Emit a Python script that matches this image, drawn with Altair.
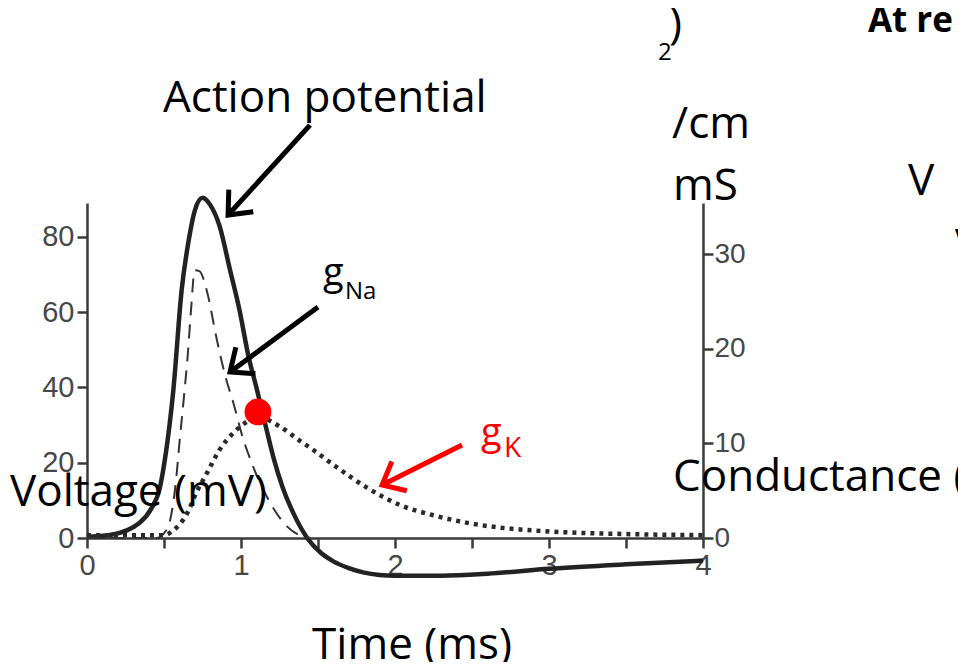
import altair as alt
import pandas as pd

# ---- data ----
time_v = [0, 0.15, 0.34, 0.42, 0.47, 0.51, 0.56, 0.615, 0.66, 0.70, 0.75, 0.80, 0.86, 0.93, 0.99,
          1.05, 1.10, 1.156, 1.21, 1.27, 1.34, 1.43, 1.52, 1.6, 1.7, 1.8, 1.9, 2.0, 2.3, 2.6, 3.0, 3.5, 4.0]
voltage = [0.3, 0.8, 4, 8, 12.8, 22, 39, 66, 79, 87, 90.4, 88.5, 83, 71, 60.6,
           48, 40, 30.5, 21.5, 13.5, 6.6, 0, -4, -6.2, -8, -9.2, -9.8, -10, -10, -9.5, -8.2, -7, -6]

time_na = [0, 0.45, 0.5, 0.54, 0.58, 0.60, 0.63, 0.655, 0.675, 0.70, 0.73, 0.78, 0.84, 0.90, 0.95,
           1.01, 1.08, 1.17, 1.30, 1.38, 1.45]
g_na = [0, 0, 0.5, 1.9, 6.4, 10, 15, 19.5, 24, 28.3, 28.2, 26, 21.2, 17, 14.3,
        10.7, 7.5, 4.3, 1.2, 0.3, 0]

time_k = [0, 0.5, 0.56, 0.65, 0.71, 0.78, 0.86, 0.95, 1.04, 1.1, 1.25, 1.38, 1.47, 1.62, 1.82,
          2.03, 2.25, 2.47, 2.68, 2.9, 3.12, 3.55, 4.0]
g_k = [0.3, 0.3, 0.8, 2.6, 4.8, 6.9, 9.3, 11.1, 12.3, 12.8, 11.8, 10.3, 9.3, 7.5, 5.3,
       3.5, 2.4, 1.6, 1.1, 0.8, 0.6, 0.4, 0.3]

x_ticks = [0, 0.5, 1, 1.5, 2, 2.5, 3, 3.5, 4]
v_ticks = [0, 20, 40, 60, 80]
g_ticks = [0, 10, 20, 30]

T_DOMAIN = [0, 4]
V_DOMAIN = [0, 89]
G_DOMAIN = [0, 35.4]

# annotation marker (intersection of V and gK)
dot_t = [1.11]
dot_v = [33.5]

# arrows (start -> tip) in data units (time, mV)
arrow_t1 = [1.448, 1.50, 2.435]
arrow_v1 = [109.7, 61.4, 24.7]
arrow_t2 = [0.916, 0.929, 1.916]
arrow_v2 = [85.8, 44.1, 14.1]
arrow_angle = [132, 143.5, 153]
arrow_color = ["#000000", "#000000", "#ff0000"]

# slide text overlays (time, mV, label, size, colour)
lab_t = [0.4935, 1.532, 1.675, 2.558, 2.708, -0.5, 3.805, 3.799, 3.805, 3.708, 3.779, 5.331]
lab_v = [113.2, 67.2, 63.5, 24.6, 21.5, 8.6, 12.5, 106.3, 89.8, 127, 132.8, 91.1]
lab_text = ["Action potential", "g", "Na", "g", "K", "Voltage (mV)", "Conductance (",
            "/cm", "mS", "2", ")", "V"]
lab_size = [44, 38, 24, 38, 28, 44, 44, 44, 44, 24, 44, 44]
lab_color = ["#000000", "#000000", "#000000", "#ff0000", "#ff0000", "#000000", "#000000",
             "#000000", "#000000", "#000000", "#000000", "#000000"]

bold_t = [5.071, 5.636]
bold_v = [134.4, 75.2]
bold_text = ["At re", "V"]

# ---- tables ----
df_v = pd.DataFrame({"t": time_v, "v": voltage})
df_na = pd.DataFrame({"t": time_na, "g": g_na})
df_k = pd.DataFrame({"t": time_k, "g": g_k})
df_dot = pd.DataFrame({"t": dot_t, "v": dot_v})
df_arr = pd.DataFrame({"t": arrow_t1, "v": arrow_v1, "t2": arrow_t2, "v2": arrow_v2,
                       "angle": arrow_angle, "color": arrow_color})
df_lab = pd.DataFrame({"t": lab_t, "v": lab_v, "label": lab_text, "size": lab_size, "color": lab_color})
df_bold = pd.DataFrame({"t": bold_t, "v": bold_v, "label": bold_text})

AXCOL = "#3a3a3a"
LABCOL = "#474747"

x_axis = alt.Axis(values=x_ticks, labelExpr="datum.value % 1 === 0 ? '' + datum.value : ''",
                  title="Time (ms)", titleFont="Open Sans", titleFontSize=44, titleFontWeight="normal",
                  titleColor="#000000", titleX=324.5, titleY=120, titleBaseline="alphabetic",
                  titleAlign="center", titleAnchor="start",
                  domainColor=AXCOL, domainWidth=2.5, tickColor=AXCOL, tickWidth=2.5, tickSize=10,
                  labelFont="Liberation Sans", labelFontSize=29, labelColor=LABCOL, labelPadding=3,
                  labelFlush=False, labelOverlap=False, grid=False)

def X(field="t"):
    return alt.X(f"{field}:Q", scale=alt.Scale(domain=T_DOMAIN, nice=False, zero=False),
                 axis=x_axis)

def YV(field="v", axis=None):
    return alt.Y(f"{field}:Q", scale=alt.Scale(domain=V_DOMAIN, nice=False, zero=False), axis=axis)

def YG(field="g", axis=None):
    return alt.Y(f"{field}:Q", scale=alt.Scale(domain=G_DOMAIN, nice=False, zero=False), axis=axis)

left_axis = alt.Axis(values=v_ticks, title=None, domainColor=AXCOL, domainWidth=2.5,
                     tickColor=AXCOL, tickWidth=2.5, tickSize=10,
                     labelFont="Liberation Sans", labelFontSize=29, labelColor=LABCOL,
                     labelPadding=3, grid=False, labelOverlap=False)
right_axis = alt.Axis(values=g_ticks, title=None, orient="right", domainColor=AXCOL, domainWidth=2.5,
                      tickColor=AXCOL, tickWidth=2.5, tickSize=10,
                      labelFont="Liberation Sans", labelFontSize=28, labelColor=LABCOL,
                      labelPadding=1, grid=False, labelOverlap=False)

v_line = alt.Chart(df_v).mark_line(color="#222222", strokeWidth=4.5, interpolate="monotone").encode(
    x=X(), y=YV("v", left_axis))

na_line = alt.Chart(df_na).mark_line(color="#333333", strokeWidth=2, strokeDash=[14, 9],
                                     interpolate="monotone").encode(x=X(), y=YG("g", right_axis))

k_line = alt.Chart(df_k).mark_line(color="#2a2a2a", strokeWidth=4.5, strokeDash=[4, 5],
                                   interpolate="monotone").encode(x=X(), y=YG("g"))

dot = alt.Chart(df_dot).mark_circle(color="#ff0000", size=720, opacity=1).encode(x=X(), y=YV("v"))

shafts = alt.Chart(df_arr).mark_rule(strokeWidth=5).encode(
    x=X(), y=YV("v"), x2=alt.X2("t2:Q"), y2=alt.Y2("v2:Q"),
    color=alt.Color("color:N", scale=None))

heads = alt.Chart(df_arr).mark_point(shape="M-1,-0.85L0,0L-1,0.85", filled=False, strokeWidth=5,
                                     size=1500, opacity=1).encode(
    x=X("t2"), y=YV("v2"), angle=alt.Angle("angle:Q", scale=None),
    color=alt.Color("color:N", scale=None))

labels = alt.Chart(df_lab).mark_text(font="Open Sans", align="left", baseline="alphabetic").encode(
    x=X(), y=YV("v"), text="label:N", size=alt.Size("size:Q", scale=None),
    color=alt.Color("color:N", scale=None))

bold_labels = alt.Chart(df_bold).mark_text(font="Open Sans", fontWeight="bold", fontSize=35,
                                           align="left", baseline="alphabetic", color="#000000").encode(
    x=X(), y=YV("v"), text="label:N")

chart = alt.layer(v_line, na_line, k_line, shafts, heads, dot, labels, bold_labels).resolve_scale(
    y="independent"
).properties(
    width=616, height=335,
    autosize=alt.AutoSizeParams(type="none"),
    padding={"left": 79, "top": 195, "right": 255, "bottom": 124},
    background="#ffffff",
).configure_view(strokeWidth=0)

chart.save("out.html", embed_options={"renderer": "svg", "actions": False})
